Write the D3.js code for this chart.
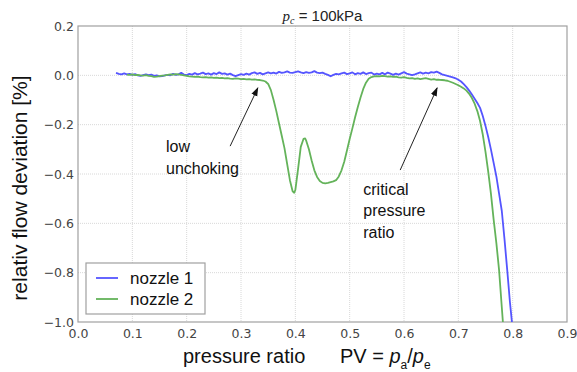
<!DOCTYPE html>
<html>
<head>
<meta charset="utf-8">
<script src="https://cdn.jsdelivr.net/npm/d3@7"></script>
<style>
  body { margin: 0; background: #fff; }
  svg text { font-family: "Liberation Sans", Arial, sans-serif; }
  .tick text { font-family: "DejaVu Sans", sans-serif; font-size: 12.5px; fill: #444; }
</style>
</head>
<body>
<svg id="chart" width="577" height="372"></svg>
<script>
// pressure ratio PV vs. relative flow deviation [%]
var nozzle1 = [
  [0.070,0.010],[0.075,0.006],[0.080,0.004],[0.085,0.008],[0.090,0.004],[0.095,0.006],
  [0.100,0.002],[0.105,0.005],[0.110,0.000],[0.115,-0.002],[0.120,0.001],[0.125,0.004],
  [0.130,0.001],[0.135,0.003],[0.140,-0.002],[0.145,0.000],[0.150,-0.004],[0.155,-0.003],
  [0.160,0.000],[0.165,0.002],[0.170,0.000],[0.175,0.006],[0.180,0.002],[0.185,0.004],
  [0.190,0.010],[0.195,0.003],[0.200,0.001],[0.205,0.006],[0.210,0.003],[0.215,0.009],
  [0.220,0.004],[0.225,0.007],[0.230,0.011],[0.235,0.005],[0.240,0.008],[0.245,0.003],
  [0.250,0.009],[0.255,0.005],[0.260,0.012],[0.265,0.006],[0.270,0.008],[0.275,0.003],
  [0.280,0.007],[0.285,0.001],[0.290,-0.003],[0.295,0.001],[0.300,0.005],[0.305,0.002],
  [0.310,0.007],[0.315,0.003],[0.320,0.009],[0.325,0.012],[0.330,0.006],[0.335,0.010],
  [0.340,0.004],[0.345,0.008],[0.350,0.012],[0.355,0.008],[0.360,0.011],[0.365,0.007],
  [0.370,0.014],[0.375,0.010],[0.380,0.012],[0.385,0.016],[0.390,0.011],[0.395,0.010],
  [0.400,0.013],[0.405,0.016],[0.410,0.012],[0.415,0.009],[0.420,0.013],[0.425,0.010],
  [0.430,0.012],[0.435,0.017],[0.440,0.011],[0.445,0.009],[0.450,0.011],[0.455,0.006],
  [0.460,0.002],[0.465,-0.004],[0.470,0.002],[0.475,0.006],[0.480,0.004],[0.485,0.008],
  [0.490,0.011],[0.495,0.005],[0.500,0.008],[0.505,0.012],[0.510,0.004],[0.515,0.009],
  [0.520,0.006],[0.525,0.012],[0.530,0.005],[0.535,0.009],[0.540,0.011],[0.545,0.003],
  [0.550,0.007],[0.555,0.004],[0.560,0.010],[0.565,0.004],[0.570,0.011],[0.575,0.007],
  [0.580,0.002],[0.585,0.007],[0.590,0.003],[0.595,0.008],[0.600,0.013],[0.605,0.007],
  [0.610,0.004],[0.615,0.001],[0.620,0.004],[0.625,0.008],[0.630,0.012],[0.635,0.007],
  [0.640,0.011],[0.645,0.008],[0.650,0.013],[0.655,0.011],[0.660,0.015],[0.665,0.010],
  [0.670,0.004],[0.675,0.001],[0.680,-0.002],[0.685,-0.005],[0.690,-0.008],[0.695,-0.012],
  [0.700,-0.018],[0.705,-0.025],[0.710,-0.036],[0.715,-0.048],[0.720,-0.062],[0.725,-0.078],
  [0.730,-0.095],[0.735,-0.112],[0.740,-0.132],[0.745,-0.165],[0.750,-0.205],[0.755,-0.250],
  [0.760,-0.300],[0.765,-0.355],[0.770,-0.410],[0.775,-0.480],[0.780,-0.550],[0.785,-0.665],
  [0.790,-0.790],[0.795,-0.920],[0.800,-1.030]
];

var nozzle2 = [
  [0.090,0.003],[0.095,0.002],[0.100,0.004],[0.105,0.001],[0.110,0.002],[0.115,0.000],
  [0.120,-0.001],[0.125,0.001],[0.130,-0.002],[0.135,-0.003],[0.140,-0.006],[0.145,-0.005],
  [0.150,-0.003],[0.155,-0.001],[0.160,0.000],[0.165,0.002],[0.170,0.004],[0.175,0.003],
  [0.180,0.005],[0.185,0.004],[0.190,0.002],[0.195,0.000],[0.200,-0.002],[0.205,-0.004],
  [0.210,-0.005],[0.215,-0.006],[0.220,-0.005],[0.225,-0.007],[0.230,-0.008],[0.235,-0.007],
  [0.240,-0.009],[0.245,-0.008],[0.250,-0.010],[0.255,-0.009],[0.260,-0.011],[0.265,-0.010],
  [0.270,-0.012],[0.275,-0.011],[0.280,-0.013],[0.285,-0.014],[0.290,-0.012],[0.295,-0.013],
  [0.300,-0.015],[0.305,-0.014],[0.310,-0.016],[0.315,-0.015],[0.320,-0.017],[0.325,-0.016],
  [0.330,-0.018],[0.335,-0.019],[0.340,-0.021],[0.345,-0.025],[0.350,-0.035],[0.355,-0.060],
  [0.360,-0.100],[0.365,-0.145],[0.370,-0.195],[0.375,-0.245],[0.380,-0.295],[0.385,-0.360],
  [0.390,-0.425],[0.395,-0.470],[0.398,-0.476],[0.400,-0.465],[0.405,-0.380],[0.410,-0.290],
  [0.415,-0.258],[0.418,-0.256],[0.420,-0.265],[0.425,-0.300],[0.430,-0.345],[0.435,-0.385],
  [0.440,-0.412],[0.445,-0.428],[0.450,-0.436],[0.455,-0.438],[0.460,-0.436],[0.465,-0.433],
  [0.470,-0.430],[0.475,-0.425],[0.480,-0.410],[0.485,-0.385],[0.490,-0.350],[0.495,-0.305],
  [0.500,-0.258],[0.505,-0.215],[0.510,-0.170],[0.515,-0.128],[0.520,-0.090],[0.525,-0.055],
  [0.530,-0.030],[0.535,-0.014],[0.540,-0.007],[0.545,-0.004],[0.550,-0.003],[0.555,-0.004],
  [0.560,-0.002],[0.565,-0.003],[0.570,-0.005],[0.575,-0.004],[0.580,-0.006],[0.585,-0.005],
  [0.590,-0.008],[0.595,-0.009],[0.600,-0.007],[0.605,-0.010],[0.610,-0.012],[0.615,-0.011],
  [0.620,-0.014],[0.625,-0.012],[0.630,-0.015],[0.635,-0.013],[0.640,-0.011],[0.645,-0.014],
  [0.650,-0.017],[0.655,-0.015],[0.660,-0.018],[0.665,-0.018],[0.670,-0.019],[0.675,-0.020],
  [0.680,-0.022],[0.685,-0.026],[0.690,-0.030],[0.695,-0.035],[0.700,-0.040],[0.705,-0.046],
  [0.710,-0.053],[0.715,-0.062],[0.720,-0.075],[0.725,-0.092],[0.730,-0.115],[0.735,-0.145],
  [0.740,-0.185],[0.745,-0.240],[0.750,-0.310],[0.755,-0.390],[0.760,-0.480],[0.765,-0.585],
  [0.770,-0.680],[0.775,-0.790],[0.780,-0.940],[0.783,-1.030]
];

var xTicks = [0.0, 0.1, 0.2, 0.3, 0.4, 0.5, 0.6, 0.7, 0.8, 0.9];
var yTicks = [0.2, 0.0, -0.2, -0.4, -0.6, -0.8, -1.0];
var seriesNames = ["nozzle 1", "nozzle 2"];
var seriesColors = ["#5555ff", "#64b35a"];

// annotations: text lines, text anchor, arrow tail, arrow tip (data units)
var notes = [
  {lines: ["low", "unchoking"], at: [0.162, -0.311], from: [0.280, -0.287], to: [0.331, -0.051]},
  {lines: ["critical", "pressure", "ratio"], at: [0.525, -0.485], from: [0.593, -0.384], to: [0.661, -0.051]}
];

var mLeft = 78, mRight = 567, mTop = 26, mBottom = 322;

var svg = d3.select("#chart");

var x = d3.scaleLinear().domain([0, 0.9]).range([mLeft, mRight]);
var y = d3.scaleLinear().domain([-1.0, 0.2]).range([mBottom, mTop]);

svg.append("defs").append("clipPath").attr("id", "clip")
  .append("rect").attr("x", mLeft).attr("y", mTop).attr("width", mRight - mLeft).attr("height", mBottom - mTop);

svg.append("marker").attr("id", "arrow")
  .attr("viewBox", "0 0 10 10").attr("refX", 9).attr("refY", 5)
  .attr("markerWidth", 9).attr("markerHeight", 9).attr("markerUnits", "userSpaceOnUse").attr("orient", "auto")
  .append("path").attr("d", "M0,1.5 L10,5 L0,8.5 Z").attr("fill", "#111");

// grid
svg.append("g").selectAll("line").data(xTicks.slice(1, -1)).enter().append("line")
  .attr("x1", d => x(d)).attr("x2", d => x(d)).attr("y1", mTop).attr("y2", mBottom)
  .attr("stroke", "#d8d8d8").attr("stroke-dasharray", "1,1");
svg.append("g").selectAll("line").data(yTicks.slice(1, -1)).enter().append("line")
  .attr("y1", d => y(d)).attr("y2", d => y(d)).attr("x1", mLeft).attr("x2", mRight)
  .attr("stroke", "#d8d8d8").attr("stroke-dasharray", "1,1");

// axes
var fmt = d => d3.format(".1f")(d).replace("-", "\u2212");
svg.append("g").attr("transform", "translate(0," + mBottom + ")")
  .call(d3.axisBottom(x).tickValues(xTicks).tickFormat(fmt).tickSize(0).tickPadding(7))
  .call(g => g.select(".domain").remove());
svg.append("g").attr("transform", "translate(" + mLeft + ",0)")
  .call(d3.axisLeft(y).tickValues(yTicks).tickFormat(fmt).tickSize(0).tickPadding(4))
  .call(g => g.select(".domain").remove());

svg.append("rect").attr("x", mLeft).attr("y", mTop).attr("width", mRight - mLeft).attr("height", mBottom - mTop)
  .attr("fill", "none").attr("stroke", "#a0a0a0").attr("stroke-width", 1.2);

// lines
var line = d3.line().x(d => x(d[0])).y(d => y(d[1]));
var plot = svg.append("g").attr("clip-path", "url(#clip)");
[nozzle1, nozzle2].forEach(function(s, i) {
  plot.append("path").datum(s).attr("d", line)
    .attr("fill", "none").attr("stroke", seriesColors[i]).attr("stroke-width", 1.8)
    .attr("stroke-linejoin", "round");
});

// annotations
notes.forEach(function(n) {
  svg.append("line")
    .attr("x1", x(n.from[0])).attr("y1", y(n.from[1]))
    .attr("x2", x(n.to[0])).attr("y2", y(n.to[1]))
    .attr("stroke", "#222").attr("stroke-width", 1).attr("marker-end", "url(#arrow)");
  var t = svg.append("text").attr("x", x(n.at[0])).attr("y", y(n.at[1]))
    .attr("font-size", 16).attr("fill", "#111");
  n.lines.forEach(function(l, k) {
    t.append("tspan").attr("x", x(n.at[0])).attr("dy", k ? 21.5 : 0).text(l);
  });
});

// legend
var lg = svg.append("g");
lg.append("rect").attr("x", 86).attr("y", 263).attr("width", 119).attr("height", 51)
  .attr("fill", "#fff").attr("stroke", "#a0a0a0").attr("stroke-width", 1.2);
seriesNames.forEach(function(name, i) {
  lg.append("line").attr("x1", 96).attr("x2", 118).attr("y1", 278 + i * 21).attr("y2", 278 + i * 21)
    .attr("stroke", seriesColors[i]).attr("stroke-width", 1.8);
  lg.append("text").attr("x", 130).attr("y", 284 + i * 21).attr("font-size", 17).attr("fill", "#111").text(name);
});

// title
var title = svg.append("text").attr("x", (mLeft + mRight) / 2).attr("y", 21)
  .attr("text-anchor", "middle").attr("font-size", 15).attr("fill", "#222");
title.append("tspan").attr("font-family", "Liberation Serif, serif").attr("font-style", "italic").text("p");
title.append("tspan").attr("font-family", "Liberation Serif, serif").attr("font-style", "italic")
  .attr("font-size", 10).attr("dy", 3).text("c");
title.append("tspan").attr("dy", -3).text(" = 100kPa");

// axis labels
svg.append("text").attr("transform", "translate(27,188) rotate(-90)")
  .attr("text-anchor", "middle").attr("font-size", 21).attr("fill", "#111")
  .text("relativ flow deviation [%]");

var xl = svg.append("text").attr("x", 183).attr("y", 363).attr("font-size", 20).attr("fill", "#111");
xl.append("tspan").text("pressure ratio");
xl.append("tspan").attr("x", 340).text("PV = ");
xl.append("tspan").attr("font-style", "italic").text("p");
xl.append("tspan").attr("font-size", 12).attr("dy", 6).text("a");
xl.append("tspan").attr("dy", -6).text("/");
xl.append("tspan").attr("font-style", "italic").text("p");
xl.append("tspan").attr("font-size", 12).attr("dy", 6).text("e");
</script>
</body>
</html>
